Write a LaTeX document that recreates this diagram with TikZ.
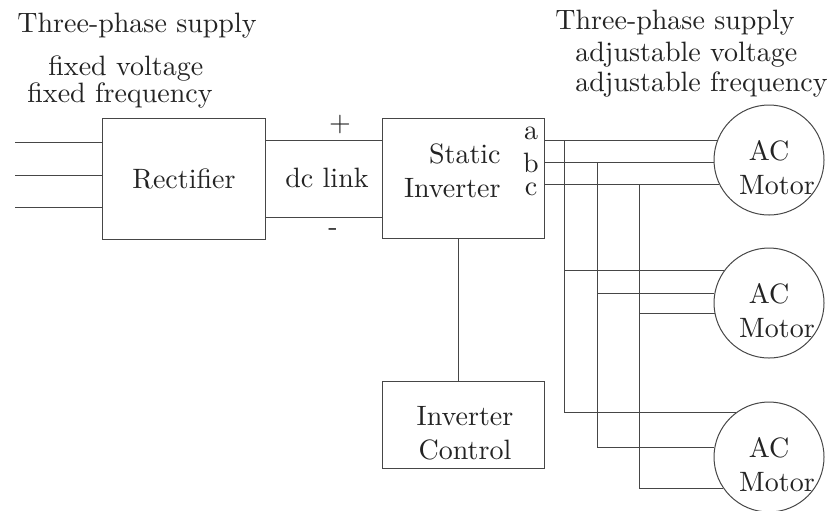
\documentclass[tikz,border=0pt]{standalone}
\usepackage{fontspec}
\setmainfont{lmroman10-regular.otf}
\usepackage{tikz}
\usetikzlibrary{positioning,calc}
\definecolor{wiregray}{RGB}{70,70,70}
\definecolor{textgray}{RGB}{35,35,35}

\begin{document}
\begin{tikzpicture}[x=0.5pt,y=-0.5pt,
  every node/.style={font=\fontsize{14}{17}\selectfont,text=textgray},
  blockbox/.style={draw=wiregray,line width=0.5pt,rectangle,inner sep=0pt,align=center},
  motorcirc/.style={draw=wiregray,line width=0.5pt,circle,inner sep=0pt,minimum size=55pt},
  wire/.style={draw=wiregray,line width=0.5pt},
  lbl/.style={inner sep=0pt,anchor=base west}]
  \useasboundingbox (0,0) rectangle (838,510);

  % ── Blocks ──
  \node[blockbox,minimum width=81.5pt,minimum height=60.5pt] (rect) at (184,179) {Rectifier};
  \node[blockbox,minimum width=81pt,minimum height=60pt] (inv) at (463,178) {};
  \node[align=right,anchor=east,inner sep=0pt] (invtxt) at (501,171) {Static\\Inverter};
  \node[blockbox,minimum width=81pt,minimum height=43.5pt] (ctl) at (463,424.5) {};
  \node[align=center,inner sep=0pt] (ctltxt) at (465,433) {Inverter\\Control};

  % ── Motors ──
  \foreach \n/\y in {1/160,2/303,3/457} {
    \node[motorcirc] (m\n) at (769,\y) {};
    \node[align=center,inner sep=0pt] (mt\n) at ($(m\n)+(0,8)$) {AC\\\hspace*{8pt}Motor};
  }

  % ── Supply labels ──
  \node[lbl] (supin) at (17,32) {Three-phase supply};
  \node[lbl] (fixv) at (48,75) {fixed voltage};
  \node[lbl] (fixf) at (27,102) {fixed frequency};
  \node[lbl] (supout) at (555,29) {Three-phase supply};
  \node[lbl] (adjv) at (575,61) {adjustable voltage};
  \node[lbl] (adjf) at (575,91) {adjustable frequency};

  % ── Input lines ──
  \foreach \y [count=\i] in {142,175,207} {
    \coordinate (in\i) at (15,\y);
    \draw[wire] (in\i) -- (in\i -| rect.west);
  }

  % ── DC link ──
  \coordinate (dcp) at ($(rect.north east)+(0,22)$);
  \coordinate (dcm) at ($(rect.south east)+(0,-23)$);
  \draw[wire] (dcp) -- (dcp -| inv.west);
  \draw[wire] (dcm) -- (dcm -| inv.west);
  \node (dclink) at (327,178) {dc link};
  \node (plus) at (340,124) {+};
  \node (minus) at (333,232) {-};

  % ── Phase labels ──
  \node[inner sep=0pt] (pha) at (531,133) {a};
  \node[inner sep=0pt] (phb) at (531,163) {b};
  \node[inner sep=0pt] (phc) at (531,189) {c};

  % ── Phase buses ──
  \coordinate (busa) at (564,0);
  \coordinate (busb) at (597,0);
  \coordinate (busc) at (639,0);
  \draw[wire] (inv.east |- m1.159) -- (m1.159);
  \draw[wire] (inv.east |- m1.183) -- (m1.183);
  \draw[wire] (inv.east |- m1.206) -- (m1.206);
  \draw[wire] (busa |- m1.159) |- (m3.127);
  \draw[wire] (busb |- m1.183) |- (m3.170);
  \draw[wire] (busc |- m1.206) |- (m3.214);
  \draw[wire] (busa |- m2.144) -- (m2.144);
  \draw[wire] (busb |- m2.170) -- (m2.170);
  \draw[wire] (busc |- m2.191) -- (m2.191);

  % ── Control link ──
  \draw[wire] ($(inv.south)+(-5,0)$) -- ($(ctl.north)+(-5,0)$);
\end{tikzpicture}
\end{document}
